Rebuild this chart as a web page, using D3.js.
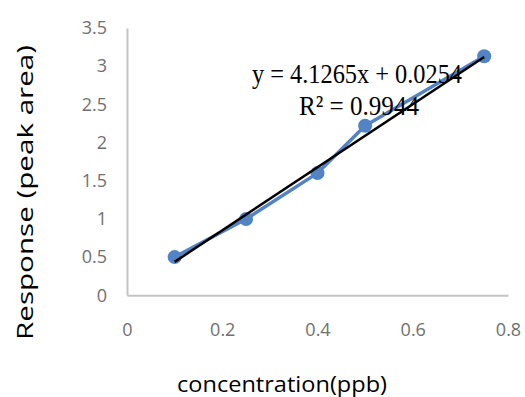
<!DOCTYPE html>
<html>
<head>
<meta charset="utf-8">
<script src="https://cdn.jsdelivr.net/npm/d3@7"></script>
<style>
  body { margin: 0; background: #fff; }
</style>
</head>
<body>
<svg id="chart"></svg>
<script>
const conc = [0.1, 0.25, 0.4, 0.5, 0.75];
const response = [0.5, 1.0, 1.6, 2.22, 3.13];
const xTicks = [0, 0.2, 0.4, 0.6, 0.8];
const yTicks = [0, 0.5, 1, 1.5, 2, 2.5, 3, 3.5];
const slope = 4.1265, intercept = 0.0254;
const eqText = "y = 4.1265x + 0.0254";
const r2Text = "R² = 0.9944";

const width = 525, height = 397;
const margin = {top: 28, right: 17, bottom: 102, left: 127};

const svg = d3.select("#chart")
  .attr("width", width)
  .attr("height", height);

const x = d3.scaleLinear().domain([0, 0.8]).range([margin.left, width - margin.right]);
const y = d3.scaleLinear().domain([0, 3.5]).range([height - margin.bottom + 0.3, margin.top]);

// axes lines, no tick marks
const xAxis = g => g
  .attr("transform", `translate(0,${y(0)})`)
  .call(d3.axisBottom(x).tickValues(xTicks).tickSize(0).tickPadding(28).tickFormat(d3.format("")))
  .call(g => g.select(".domain").attr("stroke", "#c4c4c4").attr("stroke-width", 2));

const yAxis = g => g
  .attr("transform", `translate(${x(0)},0)`)
  .call(d3.axisLeft(y).tickValues(yTicks).tickSize(0).tickPadding(20).tickFormat(d3.format("")))
  .call(g => g.select(".domain").attr("stroke", "#c4c4c4").attr("stroke-width", 2));

svg.append("g").call(xAxis)
  .selectAll("text")
  .attr("font-family", "Open Sans, sans-serif")
  .attr("font-size", 18)
  .attr("fill", "#707070");

svg.append("g").call(yAxis)
  .selectAll("text")
  .attr("font-family", "Open Sans, sans-serif")
  .attr("font-size", 18)
  .attr("fill", "#707070");

const pts = conc.map((c, i) => ({x: c, y: response[i]}));

const line = d3.line()
  .x(d => x(d.x))
  .y(d => y(d.y));

svg.append("path")
  .datum(pts)
  .attr("fill", "none")
  .attr("stroke", "#5283c4")
  .attr("stroke-width", 3.5)
  .attr("stroke-linejoin", "round")
  .attr("d", line);

svg.selectAll(".pt")
  .data(pts)
  .enter()
  .append("circle")
  .attr("cx", d => x(d.x))
  .attr("cy", d => y(d.y))
  .attr("r", 7)
  .attr("fill", "#5283c4");

// linear trendline
const x0 = d3.min(conc), x1 = d3.max(conc);
svg.append("path")
  .datum([{x: x0, y: slope * x0 + intercept}, {x: x1, y: slope * x1 + intercept}])
  .attr("fill", "none")
  .attr("stroke", "#000")
  .attr("stroke-width", 2.5)
  .attr("d", line);

// equation labels
svg.append("text")
  .attr("x", 252).attr("y", 83)
  .attr("font-family", "Liberation Serif, serif")
  .attr("font-size", 28)
  .attr("textLength", 210)
  .attr("lengthAdjust", "spacingAndGlyphs")
  .text(eqText);

svg.append("text")
  .attr("x", 299).attr("y", 115)
  .attr("font-family", "Liberation Serif, serif")
  .attr("font-size", 28)
  .attr("textLength", 120)
  .attr("lengthAdjust", "spacingAndGlyphs")
  .text(r2Text);

// axis titles
svg.append("text")
  .attr("x", 177).attr("y", 392)
  .attr("font-family", "Open Sans, sans-serif")
  .attr("font-size", 22)
  .attr("textLength", 210)
  .attr("lengthAdjust", "spacingAndGlyphs")
  .text("concentration(ppb)");

svg.append("text")
  .attr("transform", "translate(33,340) rotate(-90)")
  .attr("font-family", "Open Sans, sans-serif")
  .attr("font-size", 21)
  .attr("textLength", 295)
  .attr("lengthAdjust", "spacingAndGlyphs")
  .text("Response  (peak area)");
</script>
</body>
</html>
